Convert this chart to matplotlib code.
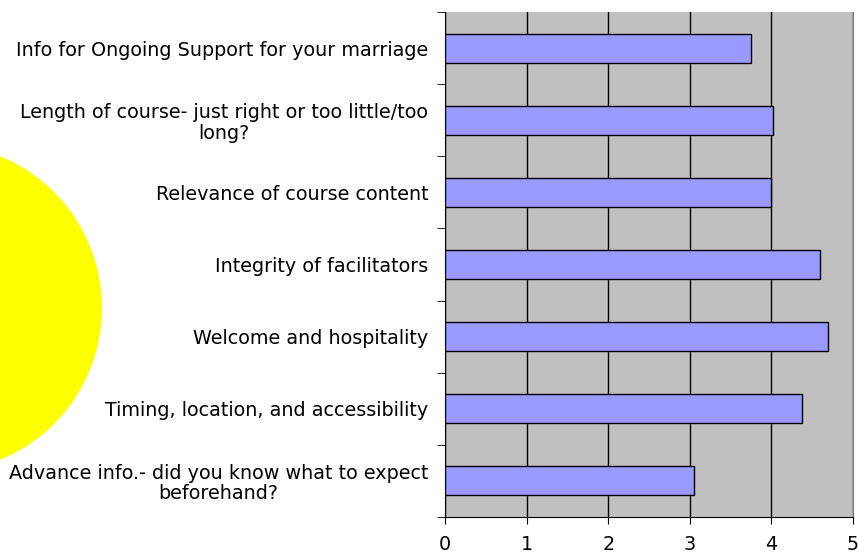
import matplotlib.pyplot as plt
from matplotlib.patches import Ellipse
import numpy as np

plt.rcParams['font.family'] = ['DejaVu Sans']

# Survey items, listed top to bottom as in the chart
questions = [
    'Info for Ongoing Support for your marriage',
    'Length of course- just right or too little/too\nlong?',
    'Relevance of course content',
    'Integrity of facilitators',
    'Welcome and hospitality',
    'Timing, location, and accessibility',
    'Advance info.- did you know what to expect\nbeforehand?',
]
scores = [3.75, 4.02, 4.0, 4.6, 4.69, 4.38, 3.05]
x_ticks = [0, 1, 2, 3, 4, 5]

fig = plt.figure(figsize=(8.59, 5.53), dpi=100)

# yellow circle behind, cut off by the left edge
sun = Ellipse((-62 / 859, 1 - 308 / 553), 328 / 859, 328 / 553,
              transform=fig.transFigure, facecolor='#FFFF00', edgecolor='none', zorder=0)
fig.add_artist(sun)

ax = fig.add_axes([445 / 859, 1 - 517 / 553, 408 / 859, 505 / 553])
ax.set_facecolor('#C0C0C0')

n = len(questions)
ypos = np.arange(n)[::-1]
ax.barh(ypos, scores, height=0.4, color='#9999FF', edgecolor='black', linewidth=1, zorder=3)

ax.set_xlim(0, 5)
ax.set_ylim(-0.5, n - 0.5)
ax.set_xticks(x_ticks)
ax.set_xticklabels([str(t) for t in x_ticks], fontsize=13.8)
ax.set_yticks(ypos)
ax.set_yticklabels(questions, fontsize=13.8, ha='right', multialignment='center',
                   linespacing=1.1)
ax.set_yticks(np.arange(-0.5, n, 1), minor=True)
ax.tick_params(axis='y', which='major', length=0, pad=12)
ax.tick_params(axis='y', which='minor', length=6, direction='out', color='black')
ax.tick_params(axis='x', length=5, direction='out', pad=8, color='black')

ax.grid(axis='x', color='black', linewidth=1, zorder=1)
ax.set_axisbelow(True)

ax.spines['top'].set_visible(False)
ax.spines['right'].set_color('#808080')
ax.spines['left'].set_color('black')
ax.spines['bottom'].set_color('black')

fig.savefig('out.png', dpi=100)
